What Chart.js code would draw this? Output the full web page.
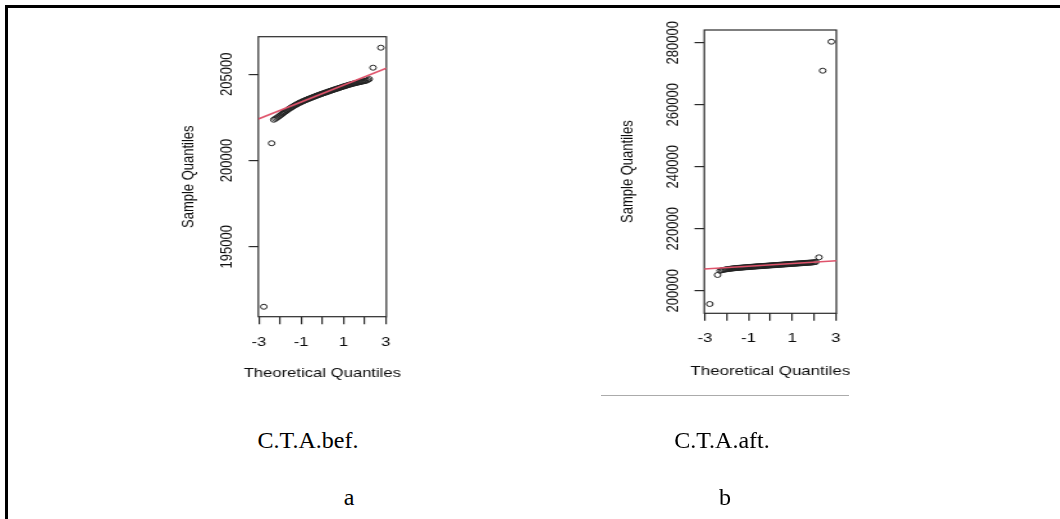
<!DOCTYPE html>
<html>
<head>
<meta charset="utf-8">
<script src="https://cdn.jsdelivr.net/npm/chart.js@4.4.1/dist/chart.umd.min.js"></script>
<style>
  html, body { margin: 0; padding: 0; background: #fff; }
  body { width: 1060px; height: 519px; overflow: hidden; position: relative; }
  .plot { position: absolute; top: 0; transform-origin: 0 0; }
  .plot canvas { display: block; }
  .rule { position: absolute; background: #000; }
  .cap { position: absolute; width: 200px; text-align: center; font-family: 'Liberation Serif', 'Times New Roman', serif; font-size: 24px; line-height: 24px; color: #000; white-space: nowrap; }
</style>
</head>
<body>
<div class="plot" id="p1" style="left:160px; transform:scaleX(1.28);"><canvas id="c1" width="190" height="400"></canvas></div>
<div class="plot" id="p2" style="left:600px; transform:scaleX(1.3);"><canvas id="c2" width="195" height="400"></canvas></div>
<div class="rule" style="left:5px; top:5px; width:1055px; height:2.5px;"></div>
<div class="rule" style="left:5px; top:5px; width:2.5px; height:514px;"></div>
<div class="rule" style="left:601px; top:394.5px; width:248px; height:1.2px; background:#ababab;"></div>
<div class="cap" id="capA" style="left:208px; top:428px;"></div>
<div class="cap" id="capB" style="left:622px; top:428px;"></div>
<div class="cap" id="letA" style="left:249px; top:485px;"></div>
<div class="cap" id="letB" style="left:625px; top:485px;"></div>
<script>
// ---------- data ----------
const captions = ['C.T.A.bef.', 'C.T.A.aft.'];
const panelLetters = ['a', 'b'];
const xAxisTitle = 'Theoretical Quantiles';
const yAxisTitle = 'Sample Quantiles';

const xTickValues = [-3, -2, -1, 0, 1, 2, 3];
const xTickLabels = ['-3', '', '-1', '', '1', '', '3'];

const leftYTickValues = [195000, 200000, 205000];
const leftYTickLabels = ['195000', '200000', '205000'];
const rightYTickValues = [200000, 220000, 240000, 260000, 280000];
const rightYTickLabels = ['200000', '220000', '240000', '260000', '280000'];

const leftTheoretical = [-2.77, -2.40, -2.30, -2.22, -2.15, -2.08, -2.02, -1.96, -1.90, -1.85,
  -1.80, -1.75, -1.70, -1.65, -1.60, -1.55, -1.50, -1.45, -1.40, -1.35,
  -1.30, -1.25, -1.20, -1.15, -1.10, -1.05, -1.00, -0.95, -0.90, -0.85,
  -0.80, -0.75, -0.70, -0.65, -0.60, -0.55, -0.50, -0.45, -0.40, -0.35,
  -0.30, -0.25, -0.20, -0.15, -0.10, -0.05, 0.00, 0.05, 0.10, 0.15,
  0.20, 0.25, 0.30, 0.35, 0.40, 0.45, 0.50, 0.55, 0.60, 0.65,
  0.70, 0.75, 0.80, 0.85, 0.90, 0.95, 1.00, 1.05, 1.10, 1.15,
  1.20, 1.25, 1.30, 1.35, 1.40, 1.45, 1.50, 1.55, 1.60, 1.65,
  1.70, 1.75, 1.80, 1.85, 1.90, 1.96, 2.02, 2.08, 2.15, 2.22,
  2.40, 2.77];
const leftSample = [191520, 201000, 202364, 202422, 202481, 202540, 202594, 202648, 202703, 202750,
  202796, 202840, 202885, 202929, 202971, 203012, 203052, 203090, 203127, 203163,
  203199, 203233, 203266, 203298, 203330, 203360, 203389, 203417, 203445, 203472,
  203498, 203524, 203550, 203574, 203598, 203622, 203647, 203671, 203695, 203719,
  203743, 203766, 203788, 203810, 203833, 203855, 203876, 203897, 203919, 203940,
  203961, 203982, 204004, 204025, 204046, 204067, 204088, 204108, 204128, 204148,
  204169, 204189, 204209, 204229, 204250, 204270, 204289, 204308, 204328, 204347,
  204365, 204383, 204402, 204419, 204436, 204452, 204469, 204484, 204499, 204513,
  204528, 204541, 204554, 204567, 204581, 204596, 204611, 204630, 204672, 204721,
  205380, 206540];
const leftLineX = [-3.03, 3.03];
const leftLineY = [202410, 205348];

const rightTheoretical = [-2.78, -2.42, -2.30, -2.22, -2.15, -2.08, -2.02, -1.96, -1.90, -1.85,
  -1.80, -1.75, -1.70, -1.65, -1.60, -1.55, -1.50, -1.45, -1.40, -1.35,
  -1.30, -1.25, -1.20, -1.15, -1.10, -1.05, -1.00, -0.95, -0.90, -0.85,
  -0.80, -0.75, -0.70, -0.65, -0.60, -0.55, -0.50, -0.45, -0.40, -0.35,
  -0.30, -0.25, -0.20, -0.15, -0.10, -0.05, 0.00, 0.05, 0.10, 0.15,
  0.20, 0.25, 0.30, 0.35, 0.40, 0.45, 0.50, 0.55, 0.60, 0.65,
  0.70, 0.75, 0.80, 0.85, 0.90, 0.95, 1.00, 1.05, 1.10, 1.15,
  1.20, 1.25, 1.30, 1.35, 1.40, 1.45, 1.50, 1.55, 1.60, 1.65,
  1.70, 1.75, 1.80, 1.85, 1.90, 1.96, 2.02, 2.08, 2.23, 2.40,
  2.80];
const rightSample = [195710, 205070, 206450, 206600, 206720, 206820, 206900, 206970, 207030, 207080,
  207120, 207160, 207200, 207240, 207280, 207310, 207340, 207370, 207400, 207430,
  207460, 207490, 207520, 207550, 207580, 207610, 207640, 207670, 207700, 207725,
  207750, 207775, 207800, 207825, 207850, 207875, 207900, 207925, 207950, 207975,
  208000, 208025, 208050, 208075, 208100, 208125, 208150, 208175, 208200, 208225,
  208250, 208275, 208300, 208325, 208350, 208375, 208400, 208425, 208450, 208475,
  208500, 208525, 208550, 208575, 208600, 208625, 208650, 208675, 208700, 208725,
  208750, 208775, 208800, 208825, 208850, 208875, 208900, 208925, 208950, 208975,
  209000, 209025, 209050, 209075, 209100, 209140, 209190, 209280, 210770, 270970,
  280320];
const rightLineX = [-3.03, 3.03];
const rightLineY = [207000, 209677];

// ---------- captions ----------
document.getElementById('capA').textContent = captions[0];
document.getElementById('capB').textContent = captions[1];
document.getElementById('letA').textContent = panelLetters[0];
document.getElementById('letB').textContent = panelLetters[1];

// ---------- charts ----------
const FONT = { family: "'Liberation Sans', Arial, sans-serif", size: 13 };
const TEXT = '#0d0d0d';
const AXIS = '#2b2b2b';

const boxPlugin = {
  id: 'rbox',
  beforeDatasetsDraw(chart) {
    const a = chart.chartArea, ctx = chart.ctx;
    ctx.save();
    ctx.strokeStyle = AXIS;
    ctx.lineWidth = 1.2;
    ctx.strokeRect(a.left, a.top, a.right - a.left, a.bottom - a.top);
    ctx.restore();
  }
};

// x-axis title drawn without maxWidth compression (Chart.js squeezes it to the axis width)
const xTitlePlugin = {
  id: 'xtitle',
  afterDraw(chart, args, opts) {
    const a = chart.chartArea, ctx = chart.ctx;
    ctx.save();
    ctx.font = FONT.size + 'px ' + FONT.family;
    ctx.fillStyle = TEXT;
    ctx.textAlign = 'center';
    ctx.textBaseline = 'middle';
    ctx.fillText(opts.text, (a.left + a.right) / 2, opts.y);
    ctx.restore();
  }
};

function pairs(xs, ys) { return xs.map((x, i) => ({ x: x, y: ys[i] })); }

function makeQQ(id, o) {
  return new Chart(document.getElementById(id), {
    type: 'scatter',
    data: {
      datasets: [
        {
          data: pairs(o.lineX, o.lineY),
          showLine: true,
          borderColor: '#DF536B',
          borderWidth: 1.6,
          pointRadius: 0,
          fill: false
        },
        {
          data: pairs(o.xs, o.ys),
          pointStyle: 'circle',
          pointRadius: 2.5,
          pointBorderWidth: 1,
          pointBorderColor: '#222222',
          pointBackgroundColor: 'rgba(0,0,0,0)',
          showLine: false
        }
      ]
    },
    options: {
      responsive: false,
      animation: false,
      devicePixelRatio: 1,
      layout: { padding: { top: o.top, right: o.padRight, left: 0, bottom: 0 } },
      plugins: {
        legend: { display: false },
        tooltip: { enabled: false },
        xtitle: { text: xAxisTitle, y: o.xTitleY }
      },
      scales: {
        x: {
          type: 'linear', position: 'bottom', min: -3.03, max: 3.03,
          afterBuildTicks: s => { s.ticks = xTickValues.map(v => ({ value: v })); },
          afterFit: s => { s.height = o.xHeight; },
          ticks: { autoSkip: false, minRotation: 0, maxRotation: 0, padding: 10, color: TEXT, font: FONT,
                   callback: (v, i) => xTickLabels[i] },
          grid: { display: true, drawOnChartArea: false, drawTicks: true, tickLength: 7.5, color: AXIS, lineWidth: 1.2 },
          border: { display: false },
          title: { display: false }
        },
        y: {
          type: 'linear', position: 'left', min: o.yMin, max: o.yMax,
          afterBuildTicks: s => { s.ticks = o.yTicks.map(v => ({ value: v })); },
          afterFit: s => { s.width = o.yWidth; },
          ticks: { autoSkip: false, minRotation: 90, maxRotation: 90, crossAlign: 'center', padding: o.yTickPad,
                   color: TEXT, font: FONT, callback: (v, i) => o.yLabels[i] },
          grid: { display: true, drawOnChartArea: false, drawTicks: true, tickLength: 7.5, color: AXIS, lineWidth: 1.2 },
          border: { display: false },
          title: { display: true, text: yAxisTitle, color: TEXT, font: FONT, padding: { top: o.yTitlePad, bottom: 0 } }
        }
      }
    },
    plugins: [boxPlugin, xTitlePlugin]
  });
}

makeQQ('c1', {
  xs: leftTheoretical, ys: leftSample, lineX: leftLineX, lineY: leftLineY,
  yMin: 190944, yMax: 207178, yTicks: leftYTickValues, yLabels: leftYTickLabels,
  top: 36.7, padRight: 11.6, xHeight: 83.3, yWidth: 76.8, xTitleY: 373, yTitlePad: 14.9, yTickPad: -4.7
});
makeQQ('c2', {
  xs: rightTheoretical, ys: rightSample, lineX: rightLineX, lineY: rightLineY,
  yMin: 192710, yMax: 284097, yTicks: rightYTickValues, yLabels: rightYTickLabels,
  top: 30, padRight: 10.9, xHeight: 86.7, yWidth: 80.2, xTitleY: 371, yTitlePad: 13.4, yTickPad: -5.4
});
</script>
</body>
</html>
